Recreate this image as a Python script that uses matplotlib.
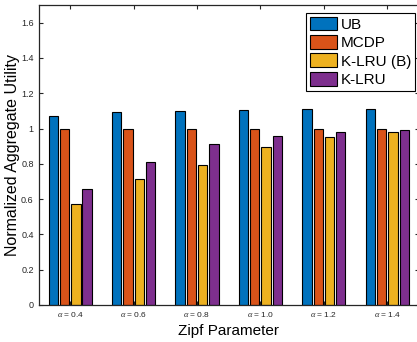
import numpy as np
import matplotlib
matplotlib.use('Agg')
from matplotlib import pyplot as plt

plt.rcParams['font.family'] = ['Liberation Sans', 'DejaVu Sans']
plt.rcParams['mathtext.fontset'] = 'custom'
plt.rcParams['mathtext.it'] = 'Liberation Serif:italic'

groups = ['0.4', '0.6', '0.8', '1.0', '1.2', '1.4']
series = ['UB', 'MCDP', 'K-LRU (B)', 'K-LRU']
ub = [1.072, 1.093, 1.102, 1.104, 1.110, 1.110]
mcdp = [1.0, 1.0, 1.0, 1.0, 1.0, 1.0]
klru_b = [0.570, 0.713, 0.793, 0.893, 0.951, 0.978]
klru = [0.659, 0.810, 0.910, 0.955, 0.978, 0.989]
colors = ['#0072BD', '#D95319', '#EDB120', '#7E2F8E']

fig = plt.figure(figsize=(4.17, 3.42), dpi=100)
ax = fig.add_axes([38.5 / 417, 37 / 342, 380.5 / 417, 300 / 342])

x = np.arange(1, len(groups) + 1)
pitch = 0.178
width = 0.147
for i, (vals, name) in enumerate(zip([ub, mcdp, klru_b, klru], series)):
    ax.bar(x + (i - 1.5) * pitch, vals, width, color=colors[i], edgecolor='black',
           linewidth=0.8, label=name, zorder=2)

ax.set_xlim(0.5, 6.5)
ax.set_ylim(0, 1.7)
ax.set_yticks(np.arange(0, 1.61, 0.2))
ax.set_yticklabels(['0', '0.2', '0.4', '0.6', '0.8', '1', '1.2', '1.4', '1.6'], fontsize=6.5)
ax.set_xticks(x)
ax.set_xticklabels([r'$\alpha$ = ' + g for g in groups], fontsize=6)
ax.tick_params(direction='in', top=True, right=True, length=3, width=0.8, colors='#262626')
for s in ax.spines.values():
    s.set_linewidth(0.9)
    s.set_color('#262626')

ax.set_ylabel('Normalized Aggregate Utility', fontsize=11.5, labelpad=1)
ax.set_xlabel('Zipf Parameter', fontsize=11, labelpad=4)

leg = ax.legend(loc='upper right', bbox_to_anchor=(0.9895, 0.974), fontsize=11,
                handlelength=1.75, handleheight=1.0, handletextpad=0.25,
                labelspacing=0.22, borderpad=0.25, borderaxespad=0.0,
                fancybox=False, framealpha=1)
leg.get_frame().set_edgecolor('black')
leg.get_frame().set_linewidth(0.8)

plt.savefig('out.png', dpi=100)
